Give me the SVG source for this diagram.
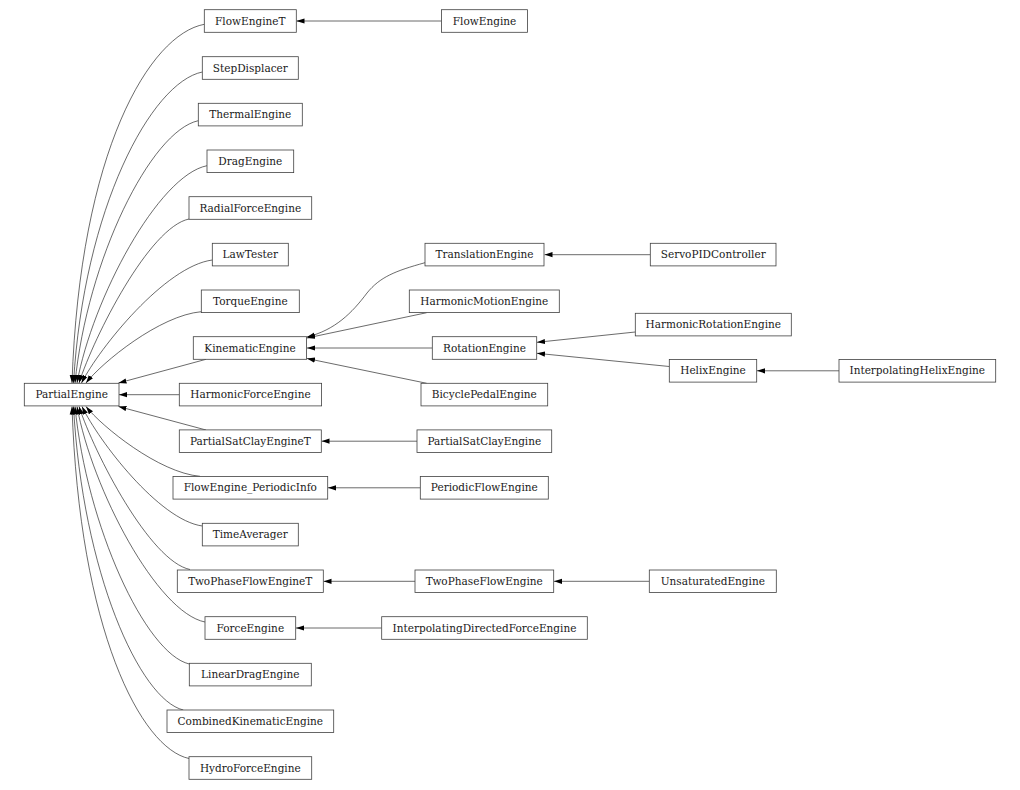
<svg xmlns="http://www.w3.org/2000/svg" width="1020" height="790" viewBox="0 0 1020 790">
<style>
.n rect{fill:#fff;stroke:#404040;stroke-width:0.8}
.n text{font-family:"DejaVu Serif","Liberation Serif",serif;font-size:10.5px;text-anchor:middle;fill:#1a1a1a}
.e path{fill:none;stroke:#1a1a1a;stroke-width:0.65;marker-end:url(#ah)}
</style>
<defs>
<marker id="ah" markerUnits="userSpaceOnUse" viewBox="0 0 8 6" markerWidth="8" markerHeight="6" refX="8" refY="3" orient="auto">
<path d="M0,0.4 L8,3 L0,5.6 z" fill="#000"/>
</marker>
</defs>
<rect width="1020" height="790" fill="#fff"/>
<g id="edges" class="e">
<path d="M441.5,21 L296.5,21"/>
<path d="M204.3,24.3 C150.1,34.3 79.9,149.8 72,383"/>
<path d="M202.3,72 C151.1,82.4 83.8,208.4 73.5,383"/>
<path d="M198.3,120.7 C150.8,130.9 87.3,259.4 75,383"/>
<path d="M207,165.7 C158.4,175.3 92.4,298.6 77,383"/>
<path d="M189,219 C149.4,227.2 94.4,335.4 79,383"/>
<path d="M212.3,260 C165.2,266.2 99.8,347.3 81.5,383"/>
<path d="M201.3,311.7 C159.8,315.3 102.1,362.3 86,383"/>
<path d="M206,359.3 L118.5,383"/>
<path d="M179.3,394.7 L119,394.7"/>
<path d="M206,430 L118.5,406.5"/>
<path d="M200,476.3 C159,472.8 102,426.7 86,406.5"/>
<path d="M202.3,526 C159,520 98.8,441.2 82,406.5"/>
<path d="M190,569.5 C150,561.3 94.5,453.8 79,406.5"/>
<path d="M205,622 C157.2,612.5 92.2,489.5 77,406.5"/>
<path d="M189.3,664 C145.4,653.8 86.6,525.6 75,406.5"/>
<path d="M183.3,710 C139.8,699.6 82.6,572.6 73.5,406.5"/>
<path d="M189,758.5 C141.2,748.4 79.4,630.7 72,406.5"/>
<path d="M425,262.7 C395,271 380,277 367,293 C352,313 335,330 307,337"/>
<path d="M426.7,312.7 L307,338"/>
<path d="M432.3,348 L307,348"/>
<path d="M426.7,383.3 L307,358.5"/>
<path d="M650.3,254.7 L544.5,254.7"/>
<path d="M635.3,332 L537,342.3"/>
<path d="M669.3,366.5 L537,353.3"/>
<path d="M839,370.8 L757,370.8"/>
<path d="M417,441.2 L321.5,441.2"/>
<path d="M420.3,487.8 L328,487.8"/>
<path d="M415,581.3 L323.5,581.3"/>
<path d="M649.3,581.3 L554,581.3"/>
<path d="M381.7,628 L296,628"/>
</g>
<g id="FlowEngineT" class="n"><rect x="204.3" y="9.7" width="92" height="22.6"/><text x="250.3" y="24.6">FlowEngineT</text></g>
<g id="FlowEngine" class="n"><rect x="441.5" y="9.7" width="86" height="22.6"/><text x="484.5" y="24.6">FlowEngine</text></g>
<g id="StepDisplacer" class="n"><rect x="202.3" y="56.7" width="96" height="22.6"/><text x="250.3" y="71.6">StepDisplacer</text></g>
<g id="ThermalEngine" class="n"><rect x="198.3" y="103.3" width="104" height="22.6"/><text x="250.3" y="118.2">ThermalEngine</text></g>
<g id="DragEngine" class="n"><rect x="207" y="150" width="86.7" height="22.6"/><text x="250.3" y="164.9">DragEngine</text></g>
<g id="RadialForceEngine" class="n"><rect x="189" y="196.7" width="122.7" height="22.6"/><text x="250.3" y="211.6">RadialForceEngine</text></g>
<g id="LawTester" class="n"><rect x="212.3" y="243.3" width="76" height="22.6"/><text x="250.3" y="258.2">LawTester</text></g>
<g id="TorqueEngine" class="n"><rect x="201.3" y="290" width="98" height="22.6"/><text x="250.3" y="304.9">TorqueEngine</text></g>
<g id="KinematicEngine" class="n"><rect x="193.3" y="336.7" width="113.3" height="22.6"/><text x="250" y="351.6">KinematicEngine</text></g>
<g id="PartialEngine" class="n"><rect x="24.3" y="383.3" width="94.7" height="22.6"/><text x="71.7" y="398.2">PartialEngine</text></g>
<g id="HarmonicForceEngine" class="n"><rect x="179.3" y="383.3" width="142.3" height="22.6"/><text x="250.5" y="398.2">HarmonicForceEngine</text></g>
<g id="PartialSatClayEngineT" class="n"><rect x="179.3" y="429.9" width="142" height="22.6"/><text x="250.3" y="444.8">PartialSatClayEngineT</text></g>
<g id="FlowEngine_PeriodicInfo" class="n"><rect x="173" y="476.5" width="154.7" height="22.6"/><text x="250.3" y="491.4">FlowEngine_PeriodicInfo</text></g>
<g id="TimeAverager" class="n"><rect x="202.3" y="523.3" width="96" height="22.6"/><text x="250.3" y="538.2">TimeAverager</text></g>
<g id="TwoPhaseFlowEngineT" class="n"><rect x="177.3" y="570" width="146" height="22.6"/><text x="250.3" y="584.9">TwoPhaseFlowEngineT</text></g>
<g id="ForceEngine" class="n"><rect x="205" y="616.7" width="90.7" height="22.6"/><text x="250.3" y="631.6">ForceEngine</text></g>
<g id="LinearDragEngine" class="n"><rect x="189.3" y="663.3" width="122" height="22.6"/><text x="250.3" y="678.2">LinearDragEngine</text></g>
<g id="CombinedKinematicEngine" class="n"><rect x="167" y="710" width="166.7" height="22.6"/><text x="250.3" y="724.9">CombinedKinematicEngine</text></g>
<g id="HydroForceEngine" class="n"><rect x="189" y="756.7" width="122.7" height="22.6"/><text x="250.3" y="771.6">HydroForceEngine</text></g>
<g id="TranslationEngine" class="n"><rect x="425" y="243.3" width="119" height="22.6"/><text x="484.5" y="258.2">TranslationEngine</text></g>
<g id="HarmonicMotionEngine" class="n"><rect x="409.3" y="290" width="150" height="22.6"/><text x="484.3" y="304.9">HarmonicMotionEngine</text></g>
<g id="RotationEngine" class="n"><rect x="432.3" y="336.7" width="104.4" height="22.6"/><text x="484.5" y="351.6">RotationEngine</text></g>
<g id="BicyclePedalEngine" class="n"><rect x="421" y="383.3" width="126.7" height="22.6"/><text x="484.3" y="398.2">BicyclePedalEngine</text></g>
<g id="PartialSatClayEngine" class="n"><rect x="417" y="429.9" width="134.7" height="22.6"/><text x="484.3" y="444.8">PartialSatClayEngine</text></g>
<g id="PeriodicFlowEngine" class="n"><rect x="420.3" y="476.5" width="128" height="22.6"/><text x="484.3" y="491.4">PeriodicFlowEngine</text></g>
<g id="TwoPhaseFlowEngine" class="n"><rect x="415" y="570" width="138.7" height="22.6"/><text x="484.3" y="584.9">TwoPhaseFlowEngine</text></g>
<g id="InterpolatingDirectedForceEngine" class="n"><rect x="381.7" y="616.7" width="205.6" height="22.6"/><text x="484.5" y="631.6">InterpolatingDirectedForceEngine</text></g>
<g id="ServoPIDController" class="n"><rect x="650.3" y="243.3" width="125.7" height="22.6"/><text x="713.2" y="258.2">ServoPIDController</text></g>
<g id="HarmonicRotationEngine" class="n"><rect x="635.3" y="313.3" width="156" height="22.6"/><text x="713.3" y="328.2">HarmonicRotationEngine</text></g>
<g id="HelixEngine" class="n"><rect x="669.3" y="359.5" width="87.4" height="22.6"/><text x="713" y="374.4">HelixEngine</text></g>
<g id="UnsaturatedEngine" class="n"><rect x="649.3" y="570" width="127" height="22.6"/><text x="712.8" y="584.9">UnsaturatedEngine</text></g>
<g id="InterpolatingHelixEngine" class="n"><rect x="839" y="359.5" width="156.7" height="22.6"/><text x="917.3" y="374.4">InterpolatingHelixEngine</text></g>
</svg>
